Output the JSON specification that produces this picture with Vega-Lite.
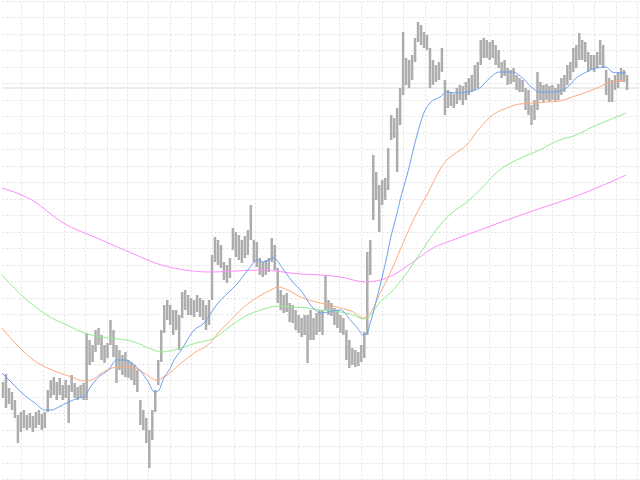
{
  "$schema": "https://vega.github.io/schema/vega-lite/v6.json",
  "width": 640,
  "height": 480,
  "autosize": {"type": "fit", "contains": "padding"},
  "padding": 0,
  "background": "white",
  "config": {
    "view": {"stroke": null},
    "axis": {"labels": false, "ticks": false, "domain": false, "grid": true, "gridColor": "#e2e2e2", "gridDash": [2, 2], "gridWidth": 1, "tickCount": 60}
  },
  "layer": [
    {
      "data": {"values": [{"price": 88}]},
      "mark": {"type": "rule", "color": "#e6e6e6", "strokeWidth": 1.5},
      "encoding": {
        "y": {"field": "price", "type": "quantitative", "scale": {"domain": [0, 480], "reverse": true, "nice": false, "zero": false},
          "axis": {"title": null, "tickCount": 60, "values": [1, 17, 34, 50, 67, 83, 100, 116, 133, 149, 166, 182, 199, 215, 232, 248, 265, 281, 298, 314, 331, 347, 364, 380, 397, 413, 430, 446, 463, 479]}}
      }
    },
    {
      "data": {"values": [
        {"x":1,"h":382,"l":398},{"x":4,"h":374,"l":408},{"x":7,"h":388,"l":404},{"x":10,"h":392,"l":410},{"x":13,"h":400,"l":418},{"x":16,"h":415,"l":443},{"x":19,"h":412,"l":432},{"x":22,"h":410,"l":428},{"x":25,"h":415,"l":430},{"x":28,"h":413,"l":428},
        {"x":31,"h":416,"l":432},{"x":34,"h":412,"l":428},{"x":37,"h":410,"l":425},{"x":40,"h":414,"l":430},{"x":43,"h":412,"l":428},{"x":46,"h":390,"l":412},{"x":49,"h":380,"l":398},{"x":52,"h":377,"l":395},{"x":55,"h":382,"l":400},{"x":58,"h":378,"l":395},
        {"x":61,"h":385,"l":400},{"x":64,"h":380,"l":398},{"x":67,"h":385,"l":423},{"x":70,"h":375,"l":392},{"x":73,"h":383,"l":398},{"x":76,"h":387,"l":400},{"x":79,"h":385,"l":398},{"x":82,"h":383,"l":400},{"x":85,"h":333,"l":400},{"x":88,"h":340,"l":365},
        {"x":91,"h":345,"l":362},{"x":94,"h":330,"l":352},{"x":97,"h":328,"l":345},{"x":100,"h":335,"l":360},{"x":103,"h":345,"l":363},{"x":106,"h":343,"l":358},{"x":109,"h":320,"l":345},{"x":112,"h":330,"l":357},{"x":115,"h":345,"l":383},{"x":118,"h":350,"l":370},
        {"x":121,"h":355,"l":375},{"x":124,"h":352,"l":377},{"x":127,"h":360,"l":378},{"x":130,"h":362,"l":380},{"x":133,"h":365,"l":385},{"x":136,"h":370,"l":392},{"x":139,"h":400,"l":425},{"x":142,"h":410,"l":430},{"x":145,"h":418,"l":443},{"x":148,"h":430,"l":468},
        {"x":151,"h":410,"l":440},{"x":154,"h":390,"l":412},{"x":157,"h":360,"l":385},{"x":160,"h":330,"l":362},{"x":163,"h":305,"l":333},{"x":166,"h":300,"l":320},{"x":169,"h":305,"l":325},{"x":172,"h":310,"l":335},{"x":175,"h":310,"l":330},{"x":178,"h":315,"l":350},
        {"x":181,"h":292,"l":318},{"x":184,"h":290,"l":310},{"x":187,"h":295,"l":315},{"x":190,"h":298,"l":315},{"x":193,"h":300,"l":317},{"x":196,"h":295,"l":312},{"x":199,"h":298,"l":317},{"x":202,"h":300,"l":320},{"x":205,"h":305,"l":330},{"x":208,"h":300,"l":325},
        {"x":211,"h":255,"l":300},{"x":214,"h":237,"l":262},{"x":217,"h":240,"l":265},{"x":220,"h":245,"l":268},{"x":223,"h":262,"l":280},{"x":226,"h":265,"l":283},{"x":229,"h":258,"l":278},{"x":232,"h":228,"l":250},{"x":235,"h":232,"l":257},{"x":238,"h":235,"l":260},
        {"x":241,"h":240,"l":263},{"x":244,"h":236,"l":258},{"x":247,"h":230,"l":255},{"x":250,"h":205,"l":240},{"x":253,"h":240,"l":262},{"x":256,"h":242,"l":267},{"x":259,"h":258,"l":275},{"x":262,"h":262,"l":277},{"x":265,"h":260,"l":275},{"x":268,"h":258,"l":272},
        {"x":271,"h":238,"l":262},{"x":274,"h":245,"l":270},{"x":277,"h":268,"l":303},{"x":280,"h":290,"l":310},{"x":283,"h":295,"l":313},{"x":286,"h":293,"l":312},{"x":289,"h":303,"l":322},{"x":292,"h":305,"l":323},{"x":295,"h":310,"l":330},{"x":298,"h":315,"l":333},
        {"x":301,"h":318,"l":337},{"x":304,"h":315,"l":335},{"x":307,"h":315,"l":363},{"x":310,"h":310,"l":340},{"x":313,"h":318,"l":340},{"x":316,"h":313,"l":335},{"x":319,"h":310,"l":332},{"x":322,"h":310,"l":335},{"x":325,"h":275,"l":310},{"x":328,"h":300,"l":315},
        {"x":331,"h":303,"l":316},{"x":334,"h":308,"l":325},{"x":337,"h":310,"l":328},{"x":340,"h":315,"l":333},{"x":343,"h":318,"l":335},{"x":346,"h":330,"l":360},{"x":349,"h":340,"l":368},{"x":352,"h":348,"l":365},{"x":355,"h":350,"l":367},{"x":358,"h":352,"l":366},
        {"x":361,"h":345,"l":362},{"x":364,"h":332,"l":358},{"x":367,"h":252,"l":335},{"x":370,"h":240,"l":275},{"x":373,"h":155,"l":220},{"x":376,"h":172,"l":200},{"x":379,"h":185,"l":232},{"x":382,"h":180,"l":205},{"x":385,"h":178,"l":200},{"x":388,"h":148,"l":190},
        {"x":391,"h":115,"l":140},{"x":394,"h":118,"l":138},{"x":397,"h":108,"l":172},{"x":400,"h":88,"l":125},{"x":403,"h":32,"l":95},{"x":406,"h":58,"l":85},{"x":409,"h":60,"l":88},{"x":412,"h":55,"l":80},{"x":415,"h":38,"l":62},{"x":418,"h":22,"l":42},
        {"x":421,"h":25,"l":45},{"x":424,"h":32,"l":48},{"x":427,"h":35,"l":50},{"x":430,"h":48,"l":88},{"x":433,"h":60,"l":85},{"x":436,"h":65,"l":82},{"x":439,"h":62,"l":80},{"x":442,"h":48,"l":72},{"x":445,"h":80,"l":115},{"x":448,"h":90,"l":108},
        {"x":451,"h":92,"l":106},{"x":454,"h":94,"l":108},{"x":457,"h":88,"l":104},{"x":460,"h":85,"l":100},{"x":463,"h":86,"l":105},{"x":466,"h":82,"l":100},{"x":469,"h":78,"l":95},{"x":472,"h":75,"l":92},{"x":475,"h":65,"l":90},{"x":478,"h":62,"l":88},
        {"x":481,"h":40,"l":65},{"x":484,"h":38,"l":58},{"x":487,"h":40,"l":58},{"x":490,"h":42,"l":60},{"x":493,"h":40,"l":58},{"x":496,"h":45,"l":65},{"x":499,"h":50,"l":68},{"x":502,"h":62,"l":78},{"x":505,"h":60,"l":76},{"x":508,"h":68,"l":85},
        {"x":511,"h":70,"l":84},{"x":514,"h":68,"l":82},{"x":517,"h":75,"l":90},{"x":520,"h":78,"l":92},{"x":523,"h":80,"l":92},{"x":526,"h":88,"l":110},{"x":529,"h":90,"l":115},{"x":532,"h":105,"l":125},{"x":535,"h":100,"l":120},{"x":538,"h":72,"l":110},
        {"x":541,"h":82,"l":100},{"x":544,"h":85,"l":102},{"x":547,"h":84,"l":100},{"x":550,"h":86,"l":102},{"x":553,"h":85,"l":100},{"x":556,"h":88,"l":102},{"x":559,"h":84,"l":100},{"x":562,"h":78,"l":95},{"x":565,"h":75,"l":92},{"x":568,"h":65,"l":85},
        {"x":571,"h":62,"l":80},{"x":574,"h":48,"l":72},{"x":577,"h":45,"l":68},{"x":580,"h":33,"l":60},{"x":583,"h":40,"l":60},{"x":586,"h":42,"l":62},{"x":589,"h":52,"l":72},{"x":592,"h":55,"l":70},{"x":595,"h":55,"l":72},{"x":598,"h":52,"l":68},
        {"x":601,"h":40,"l":65},{"x":604,"h":45,"l":68},{"x":607,"h":70,"l":95},{"x":610,"h":78,"l":102},{"x":613,"h":80,"l":102},{"x":616,"h":75,"l":90},{"x":619,"h":72,"l":88},{"x":622,"h":68,"l":82},{"x":625,"h":70,"l":82},{"x":628,"h":75,"l":90}
      ]},
      "mark": {"type": "rule", "color": "#adadad", "strokeWidth": 2.5},
      "encoding": {
        "x": {"field": "x", "type": "quantitative", "scale": {"domain": [0, 640], "nice": false, "zero": false},
          "axis": {"title": null, "tickCount": 60, "values": [19, 41, 62, 83, 105, 126, 147, 169, 190, 211, 233, 254, 275, 297, 318, 339, 361, 382, 403, 425, 446, 467, 489, 510, 531, 553, 574, 595, 617, 638]}},
        "y": {"field": "h", "type": "quantitative", "title": null},
        "y2": {"field": "l"}
      }
    },
    {
      "data": {"values": [
        {"s":"ma200","x":0,"y":188},{"s":"ma200","x":30,"y":200},{"s":"ma200","x":60,"y":222},{"s":"ma200","x":100,"y":240},{"s":"ma200","x":130,"y":253},{"s":"ma200","x":160,"y":265},{"s":"ma200","x":210,"y":272},{"s":"ma200","x":260,"y":270},{"s":"ma200","x":300,"y":274},{"s":"ma200","x":320,"y":275},{"s":"ma200","x":340,"y":277},{"s":"ma200","x":365,"y":282},{"s":"ma200","x":380,"y":280},{"s":"ma200","x":393,"y":275},{"s":"ma200","x":413,"y":262},{"s":"ma200","x":433,"y":248},{"s":"ma200","x":453,"y":240},{"s":"ma200","x":480,"y":230},{"s":"ma200","x":530,"y":212},{"s":"ma200","x":580,"y":195},{"s":"ma200","x":627,"y":175},
        {"s":"ma100","x":0,"y":275},{"s":"ma100","x":25,"y":300},{"s":"ma100","x":50,"y":318},{"s":"ma100","x":67,"y":326},{"s":"ma100","x":83,"y":333},{"s":"ma100","x":100,"y":337},{"s":"ma100","x":117,"y":339},{"s":"ma100","x":133,"y":342},{"s":"ma100","x":150,"y":349},{"s":"ma100","x":160,"y":352},{"s":"ma100","x":180,"y":348},{"s":"ma100","x":195,"y":343},{"s":"ma100","x":213,"y":338},{"s":"ma100","x":227,"y":328},{"s":"ma100","x":243,"y":317},{"s":"ma100","x":260,"y":310},{"s":"ma100","x":277,"y":306},{"s":"ma100","x":293,"y":307},{"s":"ma100","x":307,"y":308},{"s":"ma100","x":320,"y":310},{"s":"ma100","x":340,"y":312},{"s":"ma100","x":353,"y":315},{"s":"ma100","x":363,"y":319},{"s":"ma100","x":367,"y":318},{"s":"ma100","x":380,"y":302},{"s":"ma100","x":390,"y":293},{"s":"ma100","x":403,"y":278},{"s":"ma100","x":413,"y":264},{"s":"ma100","x":427,"y":243},{"s":"ma100","x":440,"y":225},{"s":"ma100","x":453,"y":212},{"s":"ma100","x":467,"y":202},{"s":"ma100","x":480,"y":190},{"s":"ma100","x":500,"y":170},{"s":"ma100","x":517,"y":160},{"s":"ma100","x":540,"y":150},{"s":"ma100","x":560,"y":140},{"s":"ma100","x":577,"y":135},{"s":"ma100","x":593,"y":127},{"s":"ma100","x":610,"y":120},{"s":"ma100","x":627,"y":113},
        {"s":"ma50","x":0,"y":328},{"s":"ma50","x":17,"y":347},{"s":"ma50","x":33,"y":361},{"s":"ma50","x":50,"y":370},{"s":"ma50","x":67,"y":376},{"s":"ma50","x":83,"y":381},{"s":"ma50","x":90,"y":380},{"s":"ma50","x":100,"y":373},{"s":"ma50","x":117,"y":367},{"s":"ma50","x":133,"y":368},{"s":"ma50","x":143,"y":373},{"s":"ma50","x":155,"y":380},{"s":"ma50","x":163,"y":377},{"s":"ma50","x":180,"y":363},{"s":"ma50","x":193,"y":353},{"s":"ma50","x":210,"y":342},{"s":"ma50","x":217,"y":333},{"s":"ma50","x":227,"y":323},{"s":"ma50","x":243,"y":307},{"s":"ma50","x":257,"y":297},{"s":"ma50","x":270,"y":290},{"s":"ma50","x":277,"y":287},{"s":"ma50","x":287,"y":290},{"s":"ma50","x":300,"y":297},{"s":"ma50","x":320,"y":303},{"s":"ma50","x":340,"y":308},{"s":"ma50","x":353,"y":312},{"s":"ma50","x":363,"y":318},{"s":"ma50","x":370,"y":313},{"s":"ma50","x":380,"y":293},{"s":"ma50","x":390,"y":273},{"s":"ma50","x":400,"y":250},{"s":"ma50","x":410,"y":227},{"s":"ma50","x":420,"y":207},{"s":"ma50","x":427,"y":195},{"s":"ma50","x":437,"y":175},{"s":"ma50","x":445,"y":162},{"s":"ma50","x":453,"y":155},{"s":"ma50","x":467,"y":145},{"s":"ma50","x":480,"y":128},{"s":"ma50","x":493,"y":115},{"s":"ma50","x":507,"y":108},{"s":"ma50","x":520,"y":104},{"s":"ma50","x":533,"y":103},{"s":"ma50","x":547,"y":102},{"s":"ma50","x":560,"y":101},{"s":"ma50","x":573,"y":97},{"s":"ma50","x":593,"y":90},{"s":"ma50","x":613,"y":82},{"s":"ma50","x":627,"y":80},
        {"s":"ma20","x":0,"y":373},{"s":"ma20","x":10,"y":383},{"s":"ma20","x":20,"y":393},{"s":"ma20","x":33,"y":403},{"s":"ma20","x":43,"y":410},{"s":"ma20","x":50,"y":410},{"s":"ma20","x":57,"y":407},{"s":"ma20","x":67,"y":402},{"s":"ma20","x":77,"y":398},{"s":"ma20","x":83,"y":397},{"s":"ma20","x":87,"y":390},{"s":"ma20","x":97,"y":377},{"s":"ma20","x":107,"y":370},{"s":"ma20","x":115,"y":360},{"s":"ma20","x":123,"y":360},{"s":"ma20","x":133,"y":365},{"s":"ma20","x":140,"y":372},{"s":"ma20","x":147,"y":382},{"s":"ma20","x":153,"y":392},{"s":"ma20","x":157,"y":391},{"s":"ma20","x":163,"y":377},{"s":"ma20","x":168,"y":370},{"s":"ma20","x":173,"y":360},{"s":"ma20","x":180,"y":350},{"s":"ma20","x":193,"y":330},{"s":"ma20","x":203,"y":323},{"s":"ma20","x":210,"y":313},{"s":"ma20","x":217,"y":303},{"s":"ma20","x":227,"y":293},{"s":"ma20","x":237,"y":283},{"s":"ma20","x":247,"y":270},{"s":"ma20","x":257,"y":260},{"s":"ma20","x":263,"y":262},{"s":"ma20","x":273,"y":258},{"s":"ma20","x":283,"y":270},{"s":"ma20","x":293,"y":283},{"s":"ma20","x":300,"y":290},{"s":"ma20","x":310,"y":305},{"s":"ma20","x":320,"y":313},{"s":"ma20","x":340,"y":310},{"s":"ma20","x":350,"y":320},{"s":"ma20","x":357,"y":328},{"s":"ma20","x":363,"y":335},{"s":"ma20","x":367,"y":333},{"s":"ma20","x":370,"y":323},{"s":"ma20","x":377,"y":297},{"s":"ma20","x":380,"y":285},{"s":"ma20","x":387,"y":255},{"s":"ma20","x":390,"y":240},{"s":"ma20","x":397,"y":213},{"s":"ma20","x":400,"y":200},{"s":"ma20","x":407,"y":175},{"s":"ma20","x":417,"y":135},{"s":"ma20","x":423,"y":115},{"s":"ma20","x":430,"y":103},{"s":"ma20","x":440,"y":97},{"s":"ma20","x":447,"y":92},{"s":"ma20","x":457,"y":93},{"s":"ma20","x":467,"y":92},{"s":"ma20","x":480,"y":88},{"s":"ma20","x":490,"y":78},{"s":"ma20","x":500,"y":72},{"s":"ma20","x":513,"y":72},{"s":"ma20","x":523,"y":78},{"s":"ma20","x":533,"y":88},{"s":"ma20","x":540,"y":92},{"s":"ma20","x":553,"y":92},{"s":"ma20","x":567,"y":88},{"s":"ma20","x":577,"y":78},{"s":"ma20","x":587,"y":72},{"s":"ma20","x":597,"y":68},{"s":"ma20","x":607,"y":67},{"s":"ma20","x":613,"y":72},{"s":"ma20","x":620,"y":73},{"s":"ma20","x":627,"y":73}
      ]},
      "mark": {"type": "line", "strokeWidth": 1, "interpolate": "monotone"},
      "encoding": {
        "x": {"field": "x", "type": "quantitative"},
        "y": {"field": "y", "type": "quantitative"},
        "color": {"field": "s", "type": "nominal", "legend": null,
          "scale": {"domain": ["ma200", "ma100", "ma50", "ma20"], "range": ["#ff8cff", "#90ee90", "#ffaa80", "#6f9ff0"]}},
        "order": {"field": "x", "type": "quantitative"}
      }
    }
  ]
}
